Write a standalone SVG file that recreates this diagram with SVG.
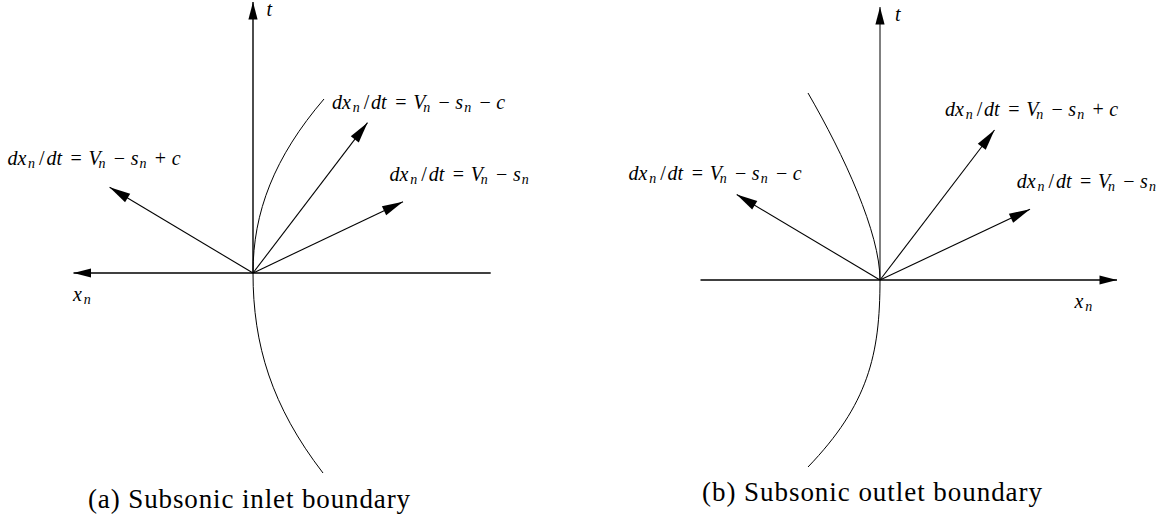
<svg xmlns="http://www.w3.org/2000/svg" width="1164" height="523" viewBox="0 0 1164 523">
<style>
  .ax { stroke:#000; stroke-width:1.4; fill:none; }
  .ch { stroke:#000; stroke-width:1.1; fill:none; }
  .cv { stroke:#000; stroke-width:1; fill:none; }
  .m { font-family:"Liberation Serif","Times New Roman",serif; font-size:20px; fill:#000; }
  .it { font-style:italic; }
  .sb { font-size:14px; }
  .cap { font-family:"Liberation Serif","Times New Roman",serif; font-size:27px; fill:#000; }
</style>
<defs>
  <marker id="axh" markerUnits="userSpaceOnUse" markerWidth="18" markerHeight="10" refX="17.5" refY="4.6" orient="auto" overflow="visible">
    <path d="M0,0 L17.5,4.6 L0,9.2 z" fill="#000"/>
  </marker>
  <marker id="chh" markerUnits="userSpaceOnUse" markerWidth="22" markerHeight="11" refX="21" refY="5" orient="auto" overflow="visible">
    <path d="M0,0 L21,5 L0,10 z" fill="#000"/>
  </marker>
</defs>
<rect width="1164" height="523" fill="#fff"/>

<g id="connectors">
  <g id="panel-a-lines">
    <path class="ax" d="M253,273 L253,2" marker-end="url(#axh)"/>
    <path class="ax" d="M490.7,273 L73.5,273" marker-end="url(#axh)"/>
    <path class="ch" d="M253,273 L109.6,187.3" marker-end="url(#chh)"/>
    <path class="ch" d="M253,273 L367.5,122.7" marker-end="url(#chh)"/>
    <path class="ch" d="M253,273 L403,201.7" marker-end="url(#chh)"/>
    <path class="cv" d="M253,273 C253,212 274.3,157 324,99"/>
    <path class="cv" d="M253,273 C253,345 271.7,406.3 323,473"/>
  </g>
  <g id="panel-b-lines">
    <path class="ax" style="stroke-width:1" d="M880,280 L880,7" marker-end="url(#axh)"/>
    <path class="ax" d="M700.5,280 L1117,280" marker-end="url(#axh)"/>
    <path class="ch" d="M880,280 L736.7,194.5" marker-end="url(#chh)"/>
    <path class="ch" d="M880,280 L994.5,130" marker-end="url(#chh)"/>
    <path class="ch" d="M880,280 L1030,209.3" marker-end="url(#chh)"/>
    <path class="cv" d="M880,280 C880,233 844,155.3 808,93"/>
    <path class="cv" d="M880,280 C880,355 868,404.7 808,467"/>
  </g>
</g>

<g id="panel-a-labels">
  <g id="a-t"><text class="m it" x="266.5" y="16">t</text></g>
  <g id="a-xn"><text class="m"><tspan class="it" x="73" y="301">x</tspan><tspan class="it sb" x="83.8" y="304">n</tspan></text></g>
  <g id="a-left">
    <text class="m"><tspan class="it" x="7.4" y="165">dx</tspan><tspan class="it sb" x="28.1" y="168">n</tspan><tspan x="39.1" y="165">/</tspan><tspan class="it" x="46.5" y="165">dt</tspan><tspan x="70.6" y="165">=</tspan><tspan class="it" x="88.6" y="165">V</tspan><tspan class="it sb" x="98.6" y="168">n</tspan><tspan x="113.8" y="165">−</tspan><tspan class="it" x="130.7" y="165">s</tspan><tspan class="it sb" x="139.6" y="168">n</tspan><tspan x="154.8" y="165">+</tspan><tspan class="it" x="171.7" y="165">c</tspan></text>
  </g>
  <g id="a-top">
    <text class="m"><tspan class="it" x="332" y="109">dx</tspan><tspan class="it sb" x="352.7" y="112">n</tspan><tspan x="363.7" y="109">/</tspan><tspan class="it" x="371.1" y="109">dt</tspan><tspan x="395.2" y="109">=</tspan><tspan class="it" x="413.2" y="109">V</tspan><tspan class="it sb" x="423.2" y="112">n</tspan><tspan x="438.4" y="109">−</tspan><tspan class="it" x="455.3" y="109">s</tspan><tspan class="it sb" x="464.2" y="112">n</tspan><tspan x="479.4" y="109">−</tspan><tspan class="it" x="496.3" y="109">c</tspan></text>
  </g>
  <g id="a-right">
    <text class="m"><tspan class="it" x="389.6" y="181">dx</tspan><tspan class="it sb" x="410.3" y="184">n</tspan><tspan x="421.3" y="181">/</tspan><tspan class="it" x="428.7" y="181">dt</tspan><tspan x="452.8" y="181">=</tspan><tspan class="it" x="470.8" y="181">V</tspan><tspan class="it sb" x="480.8" y="184">n</tspan><tspan x="496" y="181">−</tspan><tspan class="it" x="512.9" y="181">s</tspan><tspan class="it sb" x="521.8" y="184">n</tspan></text>
  </g>
  <g id="a-caption"><text class="cap" x="88" y="508" textLength="322" lengthAdjust="spacing">(a) Subsonic inlet boundary</text></g>
</g>

<g id="panel-b-labels">
  <g id="b-t"><text class="m it" x="895" y="21">t</text></g>
  <g id="b-xn"><text class="m"><tspan class="it" x="1074.5" y="307.5">x</tspan><tspan class="it sb" x="1085.3" y="310.5">n</tspan></text></g>
  <g id="b-top">
    <text class="m"><tspan class="it" x="945" y="115.5">dx</tspan><tspan class="it sb" x="965.7" y="118.5">n</tspan><tspan x="976.7" y="115.5">/</tspan><tspan class="it" x="984.1" y="115.5">dt</tspan><tspan x="1008.2" y="115.5">=</tspan><tspan class="it" x="1026.2" y="115.5">V</tspan><tspan class="it sb" x="1036.2" y="118.5">n</tspan><tspan x="1051.4" y="115.5">−</tspan><tspan class="it" x="1068.3" y="115.5">s</tspan><tspan class="it sb" x="1077.2" y="118.5">n</tspan><tspan x="1092.4" y="115.5">+</tspan><tspan class="it" x="1109.3" y="115.5">c</tspan></text>
  </g>
  <g id="b-left">
    <text class="m"><tspan class="it" x="628.5" y="180">dx</tspan><tspan class="it sb" x="649.2" y="183">n</tspan><tspan x="660.2" y="180">/</tspan><tspan class="it" x="667.6" y="180">dt</tspan><tspan x="691.7" y="180">=</tspan><tspan class="it" x="709.7" y="180">V</tspan><tspan class="it sb" x="719.7" y="183">n</tspan><tspan x="734.9" y="180">−</tspan><tspan class="it" x="751.8" y="180">s</tspan><tspan class="it sb" x="760.7" y="183">n</tspan><tspan x="775.9" y="180">−</tspan><tspan class="it" x="792.8" y="180">c</tspan></text>
  </g>
  <g id="b-right">
    <text class="m"><tspan class="it" x="1016.8" y="188">dx</tspan><tspan class="it sb" x="1037.5" y="191">n</tspan><tspan x="1048.5" y="188">/</tspan><tspan class="it" x="1055.9" y="188">dt</tspan><tspan x="1080" y="188">=</tspan><tspan class="it" x="1098" y="188">V</tspan><tspan class="it sb" x="1108" y="191">n</tspan><tspan x="1123.2" y="188">−</tspan><tspan class="it" x="1140.1" y="188">s</tspan><tspan class="it sb" x="1149" y="191">n</tspan></text>
  </g>
  <g id="b-caption"><text class="cap" x="702" y="501" textLength="340" lengthAdjust="spacing">(b) Subsonic outlet boundary</text></g>
</g>
</svg>
